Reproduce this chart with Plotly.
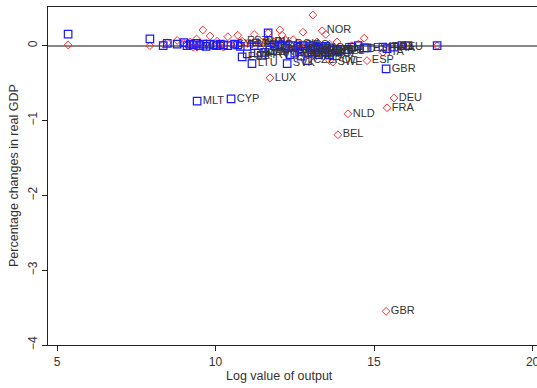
import plotly.graph_objects as go

# Country-level data: log output, % change in real GDP for two scenarios
labels = ["", "", "", "", "", "", "", "", "", "", "", "", "", "", "", "", "", "", "", "", "",
          "", "", "", "", "", "", "", "", "", "", "", "", "", "", "", "", "", "", "", "", "",
          "MLT", "CYP", "EST", "LVA", "LTU", "SVN", "HRV", "BGR", "LUX", "SVK", "ROU", "HUN",
          "GRC", "PRT", "CZE", "FIN", "IRL", "DNK", "NOR", "AUT", "POL", "SWE", "BEL", "NLD",
          "ESP", "ITA", "GBR", "FRA", "DEU"]
log_output = [5.35, 7.93, 8.35, 8.48, 8.79, 9.0, 9.1, 9.2, 9.3, 9.4, 9.5, 9.6, 9.7, 9.83, 9.95,
              10.05, 10.15, 10.25, 10.39, 10.6, 10.7, 10.78, 11.22, 11.66, 11.85, 12.03, 12.1,
              12.2, 12.45, 12.6, 12.76, 13.07, 13.2, 13.48, 13.6, 13.83, 14.3, 14.5, 14.69,
              15.88, 16.07, 16.99,
              9.42, 10.49, 10.84, 11.0, 11.15, 11.35, 11.45, 11.55, 11.72, 12.26, 12.35, 12.5,
              12.65, 12.7, 12.9, 13.05, 13.15, 13.25, 13.36, 13.45, 13.6, 13.7, 13.86, 14.18,
              14.78, 15.28, 15.38, 15.41, 15.63]
gdp_red = [0.01, 0.0, 0.02, 0.04, 0.07, 0.03, 0.01, 0.05, -0.02, 0.09, 0.04, 0.21, 0.03, 0.13,
           0.0, 0.06, 0.02, -0.02, 0.12, 0.01, 0.14, 0.0, 0.15, 0.17, 0.05, 0.21, 0.14, 0.08,
           0.08, 0.03, 0.18, 0.41, 0.05, 0.15, 0.02, 0.05, 0.0, 0.02, 0.1, 0.0, 0.0, 0.0,
           -0.02, 0.02, 0.06, 0.03, 0.02, 0.04, 0.05, 0.01, -0.43, -0.05, 0.02, -0.03,
           0.01, -0.02, -0.12, -0.06, -0.15, -0.08, 0.2, -0.1, -0.2, -0.22, -1.19, -0.91,
           -0.2, -0.09, -3.55, -0.83, -0.7]
gdp_blue = [0.155, 0.09, 0.0, 0.03, 0.02, 0.04, 0.0, 0.02, 0.01, 0.03, 0.0, 0.02, -0.01, 0.02,
            0.01, 0.0, 0.02, 0.01, 0.0, 0.02, 0.01, -0.01, 0.0, 0.17, 0.0, 0.01, -0.01, 0.0,
            0.0, -0.01, 0.0, 0.0, -0.02, -0.01, -0.03, -0.05, -0.02, 0.0, -0.03, 0.0, 0.0, 0.0,
            -0.74, -0.71, -0.15, -0.11, -0.24, -0.1, -0.13, -0.09, -0.06, -0.24, -0.12, -0.1,
            -0.08, -0.14, -0.2, -0.1, -0.05, -0.12, -0.03, -0.08, -0.12, -0.06, -0.07, -0.05,
            -0.03, -0.02, -0.31, -0.04, -0.02]

x_ticks = [5, 10, 15, 20]
y_ticks = [0, -1, -2, -3, -4]

fig = go.Figure()
fig.add_trace(go.Scatter(
    x=log_output, y=gdp_red, mode="markers+text", text=labels,
    textposition="middle right", textfont=dict(family="Arial", size=11, color="#333333"),
    marker=dict(symbol="diamond-open", size=6, color="#ff2a2a", line=dict(width=1)),
    showlegend=False, cliponaxis=False))
fig.add_trace(go.Scatter(
    x=log_output, y=gdp_blue, mode="markers+text", text=labels,
    textposition="middle right", textfont=dict(family="Arial", size=11, color="#333333"),
    marker=dict(symbol="square-open", size=7.5, color="#1a1aff", line=dict(width=1.2)),
    showlegend=False, cliponaxis=False))

fig.update_layout(
    width=537, height=388,
    margin=dict(l=48, r=0, t=7, b=43, autoexpand=False),
    paper_bgcolor="white", plot_bgcolor="white",
    font=dict(family="Arial", size=12, color="#333333"),
    annotations=[
        dict(text="Log value of output", xref="paper", yref="paper", x=0.5, y=0,
             xshift=(57 + 15 * 31.7 / 2) - (48 + 489 / 2) - 15, yshift=-31,
             xanchor="center", yanchor="middle", showarrow=False,
             font=dict(size=12.5, color="#333")),
        dict(text="Percentage changes in real GDP", xref="paper", yref="paper", x=0, y=0.5,
             xshift=-34, yshift=0, textangle=-90, xanchor="center", yanchor="middle",
             showarrow=False, font=dict(size=12.5, color="#333")),
    ],
)
fig.update_xaxes(
    range=[4.716, 20.14], tickvals=x_ticks, ticks="outside", ticklen=5,
    tickcolor="#222", showline=True, linecolor="#222", linewidth=1.3, mirror=True,
    showgrid=False, zeroline=False, tickfont=dict(size=12, color="#333"), automargin=False,
    ticklabeloverflow="allow",
)
fig.update_yaxes(
    range=[-4.0, 0.517], tickvals=y_ticks, ticks="outside", ticklen=5,
    tickcolor="#222", showline=True, linecolor="#222", linewidth=1.3,
    showgrid=False, zeroline=True, zerolinecolor="#888888", zerolinewidth=1.6,
    tickangle=-90, tickfont=dict(size=12, color="#333"), automargin=False,
)

fig.write_html("out.html", config={"displayModeBar": False},
               post_script="document.body.style.margin='0px';document.body.style.overflow='hidden';")
